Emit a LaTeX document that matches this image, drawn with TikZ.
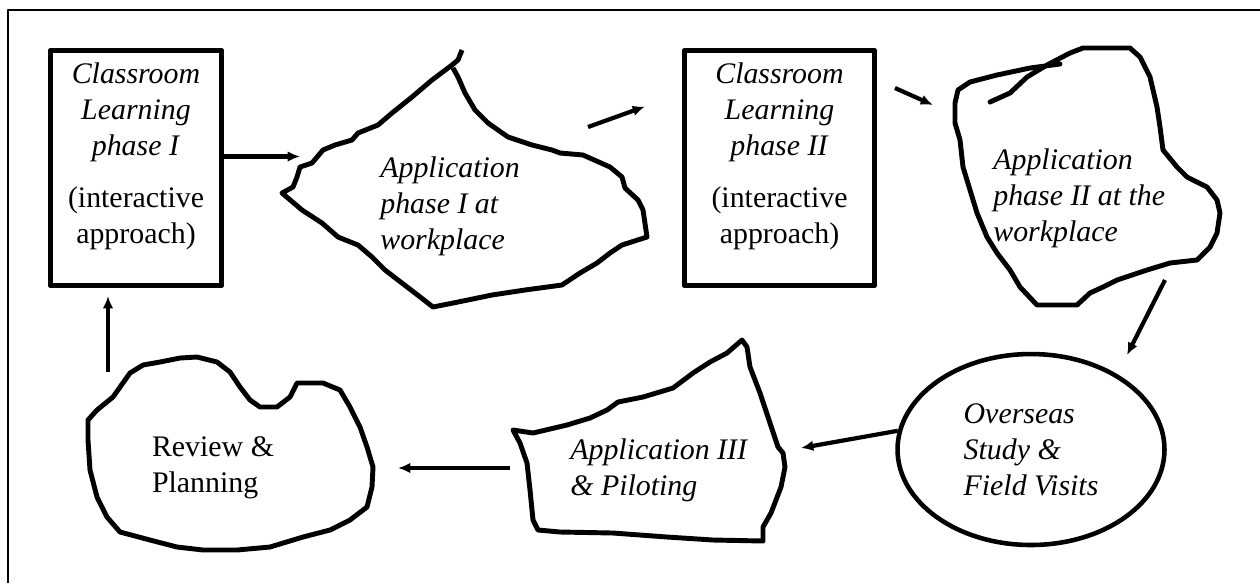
\documentclass[tikz,border=0pt]{standalone}
\usepackage{fontspec}
\setmainfont{Liberation Serif}
\usetikzlibrary{arrows.meta,shapes.geometric}

\begin{document}
\begin{tikzpicture}[x=0.02cm,y=-0.02cm,>={Latex[length=7pt,width=6pt]},line join=round,
    phase box/.style={draw,line width=3.1pt,minimum height=4.7cm,minimum width=#1},
    blob/.style={draw,line width=2.8pt},
    flow/.style={->,line width=2.4pt},
    label text/.style={inner sep=0pt,font=\fontsize{17}{20.5}\selectfont,align=#1},
    label text/.default=left]

  \useasboundingbox (0,0) rectangle (1260,583);
  \draw[line width=1.5pt] (8,583) -- (8,10) -- (1260,10);

  % classroom boxes
  \node[phase box=3.42cm] (cl1) at (136,168) {};
  \node[phase box=3.8cm]  (cl2) at (779.5,168) {};
  \node[label text=center,anchor=north] (cl1txt) at (136,62.6)
    {\textit{Classroom}\\\textit{Learning}\\\textit{phase I}\\[9pt](interactive\\approach)};
  \node[label text=center,anchor=north] (cl2txt) at (779.5,62.6)
    {\textit{Classroom}\\\textit{Learning}\\\textit{phase II}\\[9pt](interactive\\approach)};

  % application phase I
  \draw[blob] (462,50) -- (458,60) -- (452,65) -- (432,80) -- (412,97) -- (392,113) -- (378,125)
    -- (358,133) -- (352,140) -- (335,145) -- (323,150) -- (312,163) -- (300,167) -- (297,177)
    -- (293,187) -- (282,193) -- (302,210) -- (322,223) -- (338,237) -- (358,245) -- (372,257)
    -- (385,270) -- (398,280) -- (415,293) -- (433,307) -- (458,302) -- (492,295) -- (525,290)
    -- (562,285) -- (580,273) -- (597,263) -- (610,253) -- (622,245) -- (647,237) -- (643,210)
    -- (638,200) -- (625,188) -- (622,177) -- (610,167) -- (583,155) -- (560,153) -- (552,150)
    -- (532,145) -- (508,137) -- (488,123) -- (475,110) -- (465,93) -- (458,77) -- (453,68);
  \node[label text,anchor=north west,font=\fontsize{17}{20.5}\selectfont\itshape] (ap1)
    at (380,156.3) {Application\\phase I at\\workplace};

  % application phase II
  \draw[blob,line cap=round] (1060,64) -- (1030,68) -- (997,75) -- (970,82) -- (958,90) -- (955,103)
    -- (955,123) -- (960,140) -- (963,167) -- (970,190) -- (977,213) -- (987,237) -- (997,253)
    -- (1010,270) -- (1020,287) -- (1037,305) -- (1077,305) -- (1090,293) -- (1103,287)
    -- (1117,280) -- (1147,270) -- (1170,263) -- (1197,260) -- (1210,247) -- (1217,233)
    -- (1220,213) -- (1217,200) -- (1207,187) -- (1187,177) -- (1177,167) -- (1163,150)
    -- (1160,127) -- (1157,107) -- (1150,77) -- (1140,57) -- (1130,48) -- (1083,48) -- (1070,53)
    -- (1047,65) -- (1027,77) -- (1010,93) -- (990,102);
  \node[label text,anchor=north west,font=\fontsize{17}{20.5}\selectfont\itshape] (ap2)
    at (993,148) {Application\\phase II at the\\workplace};

  % overseas study
  \node[draw,ellipse,line width=2.6pt,minimum width=5.34cm,minimum height=3.82cm,
    label text,font=\fontsize{17}{20.5}\selectfont\itshape] (ov) at (1031,449.5)
    {Overseas\\Study \&\\Field Visits};

  % application III
  \draw[blob] (513,430) -- (533,433) -- (567,425) -- (590,418) -- (607,410) -- (618,402)
    -- (643,397) -- (673,388) -- (693,373) -- (710,362) -- (727,353) -- (742,340) -- (747,347)
    -- (750,367) -- (760,393) -- (770,423) -- (778,447) -- (783,453) -- (785,467) -- (781,487)
    -- (771,513) -- (763,527) -- (763,541) -- (713,540) -- (667,537) -- (613,533) -- (560,532)
    -- (538,530) -- (533,520) -- (530,490) -- (527,463) -- (520,443) -- cycle;
  \node[label text,anchor=north west,font=\fontsize{17}{20.5}\selectfont\itshape] (ap3)
    at (570,438) {Application III\\\& Piloting};

  % review
  \draw[blob] (88,420) -- (97,410) -- (113,397) -- (130,373) -- (143,365) -- (160,362)
    -- (180,358) -- (197,357) -- (217,362) -- (230,372) -- (240,387) -- (250,400) -- (260,407)
    -- (277,407) -- (290,397) -- (297,383) -- (323,383) -- (340,390) -- (350,407) -- (360,427)
    -- (367,447) -- (373,467) -- (372,487) -- (367,507) -- (350,520) -- (330,530) -- (303,537)
    -- (270,547) -- (237,550) -- (203,550) -- (177,547) -- (150,540) -- (120,532) -- (107,517)
    -- (97,497) -- (90,470) -- (88,440) -- cycle;
  \node[label text,anchor=north west] (rv) at (151.7,436.5) {Review \&\\Planning};

  % arrow ends
  \coordinate (t1) at (300,156.5);
  \coordinate (s2) at (588,127);
  \coordinate (t2) at (645,106.5);
  \coordinate (s3) at (895,88);
  \coordinate (t3) at (933,105);
  \coordinate (s4) at (1165,280);
  \coordinate (t4) at (1127,355);
  \coordinate (t5) at (801,448);
  \coordinate (s6) at (510,468);
  \coordinate (t6) at (398,468);
  \coordinate (s7) at (108,372);
  \coordinate (t7) at (108,296);

  \path[flow] (cl1.east |- t1) edge (t1)
        (s2) edge (t2)
        (s3) edge (t3)
        (s4) edge (t4)
        (ov.172) edge (t5)
        (s6) edge (t6)
        (s7) edge (t7);

\end{tikzpicture}
\end{document}
